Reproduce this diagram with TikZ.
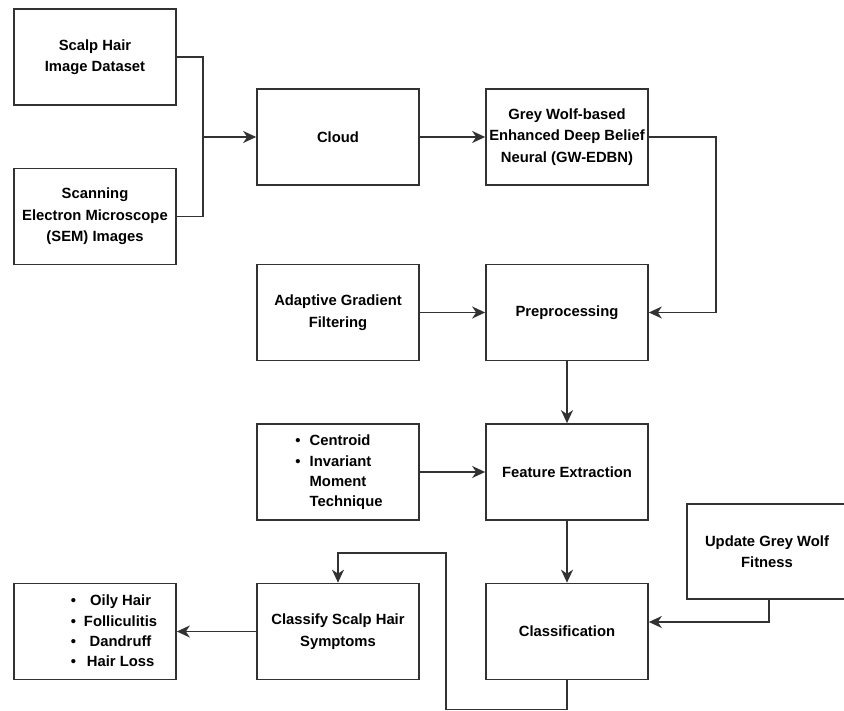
\documentclass[tikz,border=0pt]{standalone}
\usepackage{fontspec}
\setmainfont{Liberation Sans}
\usetikzlibrary{arrows.meta}
\definecolor{ln}{RGB}{50,50,50}
\begin{document}
\begin{tikzpicture}[x=1pt,y=-1pt,
  box/.style={draw=ln,line width=1.7pt,minimum width=162pt,minimum height=96pt,
    align=center,inner sep=0pt,font=\fontsize{14.8}{21.5}\selectfont\bfseries},
  txt/.style={inner sep=0pt,align=center,font=\fontsize{14.8}{21.5}\selectfont\bfseries},
  conn/.style={draw=ln,line width=1.7pt},
  arr/.style={conn,-{Stealth[length=13pt,width=12pt,inset=4pt]}}]
\useasboundingbox (0,0) rectangle (844,711);
\node[box] (sh) at (95,57) {Scalp Hair\\Image Dataset};
\node[box] (sem) at (95,216.5) {Scanning\\Electron Microscope\\(SEM) Images};
\node[box] (cloud) at (338,137) {Cloud};
\node[box] (gw) at (567,137) {Grey Wolf-based\\Enhanced Deep Belief\\Neural (GW-EDBN)};
\node[box] (agf) at (338,312.5) {Adaptive Gradient\\Filtering};
\node[box] (pre) at (567,312.5) {Preprocessing};
\node[box] (cen) at (338,472) {};
\node[txt,align=left] (centxt) at (339,472) {%
  \begin{tabular}{@{}l@{\hspace{9pt}}l@{}}
  \textbullet & Centroid\\[-1.2pt]
  \textbullet & Invariant\\[-1.2pt]
   & Moment\\[-1.2pt]
   & Technique
  \end{tabular}};
\node[box] (fe) at (567,472) {Feature Extraction};
\node[box] (cls) at (567,631.5) {Classification};
\node[box] (csh) at (338,631.5) {Classify Scalp Hair\\Symptoms};
\node[box] (oily) at (95,631.5) {};
\node[txt] (oilytxt) at (114,632) {%
  \begin{tabular}{@{}c@{\hspace{8pt}}c@{}}
  \textbullet & Oily Hair\\[-1.2pt]
  \textbullet & Folliculitis\\[-1.2pt]
  \textbullet & Dandruff\\[-1.2pt]
  \textbullet & Hair Loss
  \end{tabular}};
\node[box,minimum width=160pt,minimum height=95pt] (upd) at (767,551.5) {Update Grey Wolf\\Fitness};
\coordinate (j) at (203,137);
\coordinate (b1) at (446,709.5);
\coordinate (b2) at (446,553);
\draw[conn] (sh.east) -| (j);
\draw[conn] (sem.east) -| (j);
\draw[arr] (j) -- (cloud.west);
\draw[arr] (cloud.east) -- (gw.west);
\draw[arr] (gw.east) -- ++(67,0) |- (pre.east);
\draw[arr] (agf.east) -- (pre.west);
\draw[arr] (pre.south) -- (fe.north);
\draw[arr] (cen.east) -- (fe.west);
\draw[arr] (fe.south) -- (cls.north);
\draw[arr] ([xshift=2pt]upd.south) |- ([yshift=9.5pt]cls.east);
\draw[arr] (cls.south) |- (b1) -- (b2) -| (csh.north);
\draw[arr] (csh.west) -- (oily.east);
\end{tikzpicture}
\end{document}
